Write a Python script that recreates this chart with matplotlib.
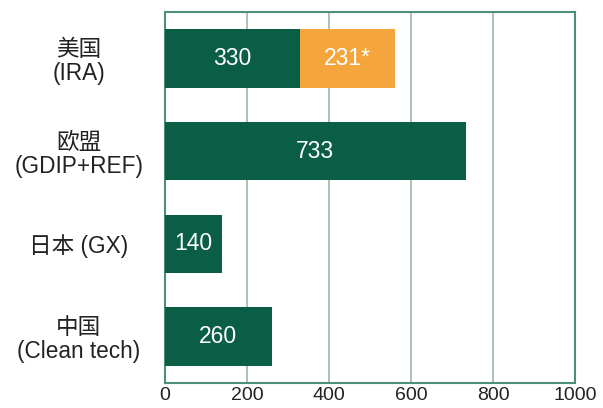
import matplotlib
matplotlib.use("Agg")
import matplotlib.pyplot as plt

plt.rcParams['font.family'] = ['Liberation Sans', 'Noto Sans CJK SC']

categories = ["美国\n(IRA)", "欧盟\n(GDIP+REF)", "日本 (GX)", "中国\n(Clean tech)"]
base_values = [330, 733, 140, 260]
extra_values = [231, 0, 0, 0]
base_labels = ["330", "733", "140", "260"]
extra_labels = ["231*", "", "", ""]
xticks = [0, 200, 400, 600, 800, 1000]

green = "#0b5e46"
orange = "#f4a53c"
frame = "#4e8f78"
grid = "#9fb5a5"

fig = plt.figure(figsize=(6.03, 4.08), dpi=100)
ax = fig.add_axes([0.2736, 0.0613, 0.68, 0.9093])

y = list(range(len(categories)))
ax.barh(y, base_values, height=0.63, color=green, zorder=3)
ax.barh(y, extra_values, left=base_values, height=0.63, color=orange, zorder=3)

for i in y:
    ax.text(base_values[i] / 2, i, base_labels[i], ha='center', va='center',
            color='white', fontsize=16.5, zorder=4)
    if extra_values[i]:
        ax.text(base_values[i] + extra_values[i] / 2, i, extra_labels[i],
                ha='center', va='center', color='white', fontsize=16.5, zorder=4)

ax.set_xlim(0, 1000)
ax.set_ylim(3.5, -0.5)
ax.set_xticks(xticks)
ax.set_xticklabels([str(t) for t in xticks], fontsize=14, color='#222222')
ax.set_yticks(y)
ax.set_yticklabels(categories, fontsize=16.3, color='#222222', ha='center', linespacing=1.05)
ax.tick_params(axis='y', length=0, pad=62)
ax.tick_params(axis='x', length=0, pad=3)
ax.xaxis.grid(True, color=grid, linewidth=1.2, zorder=0)
for s in ax.spines.values():
    s.set_color(frame)
    s.set_linewidth(1.5)

fig.savefig("out.png", dpi=100)
